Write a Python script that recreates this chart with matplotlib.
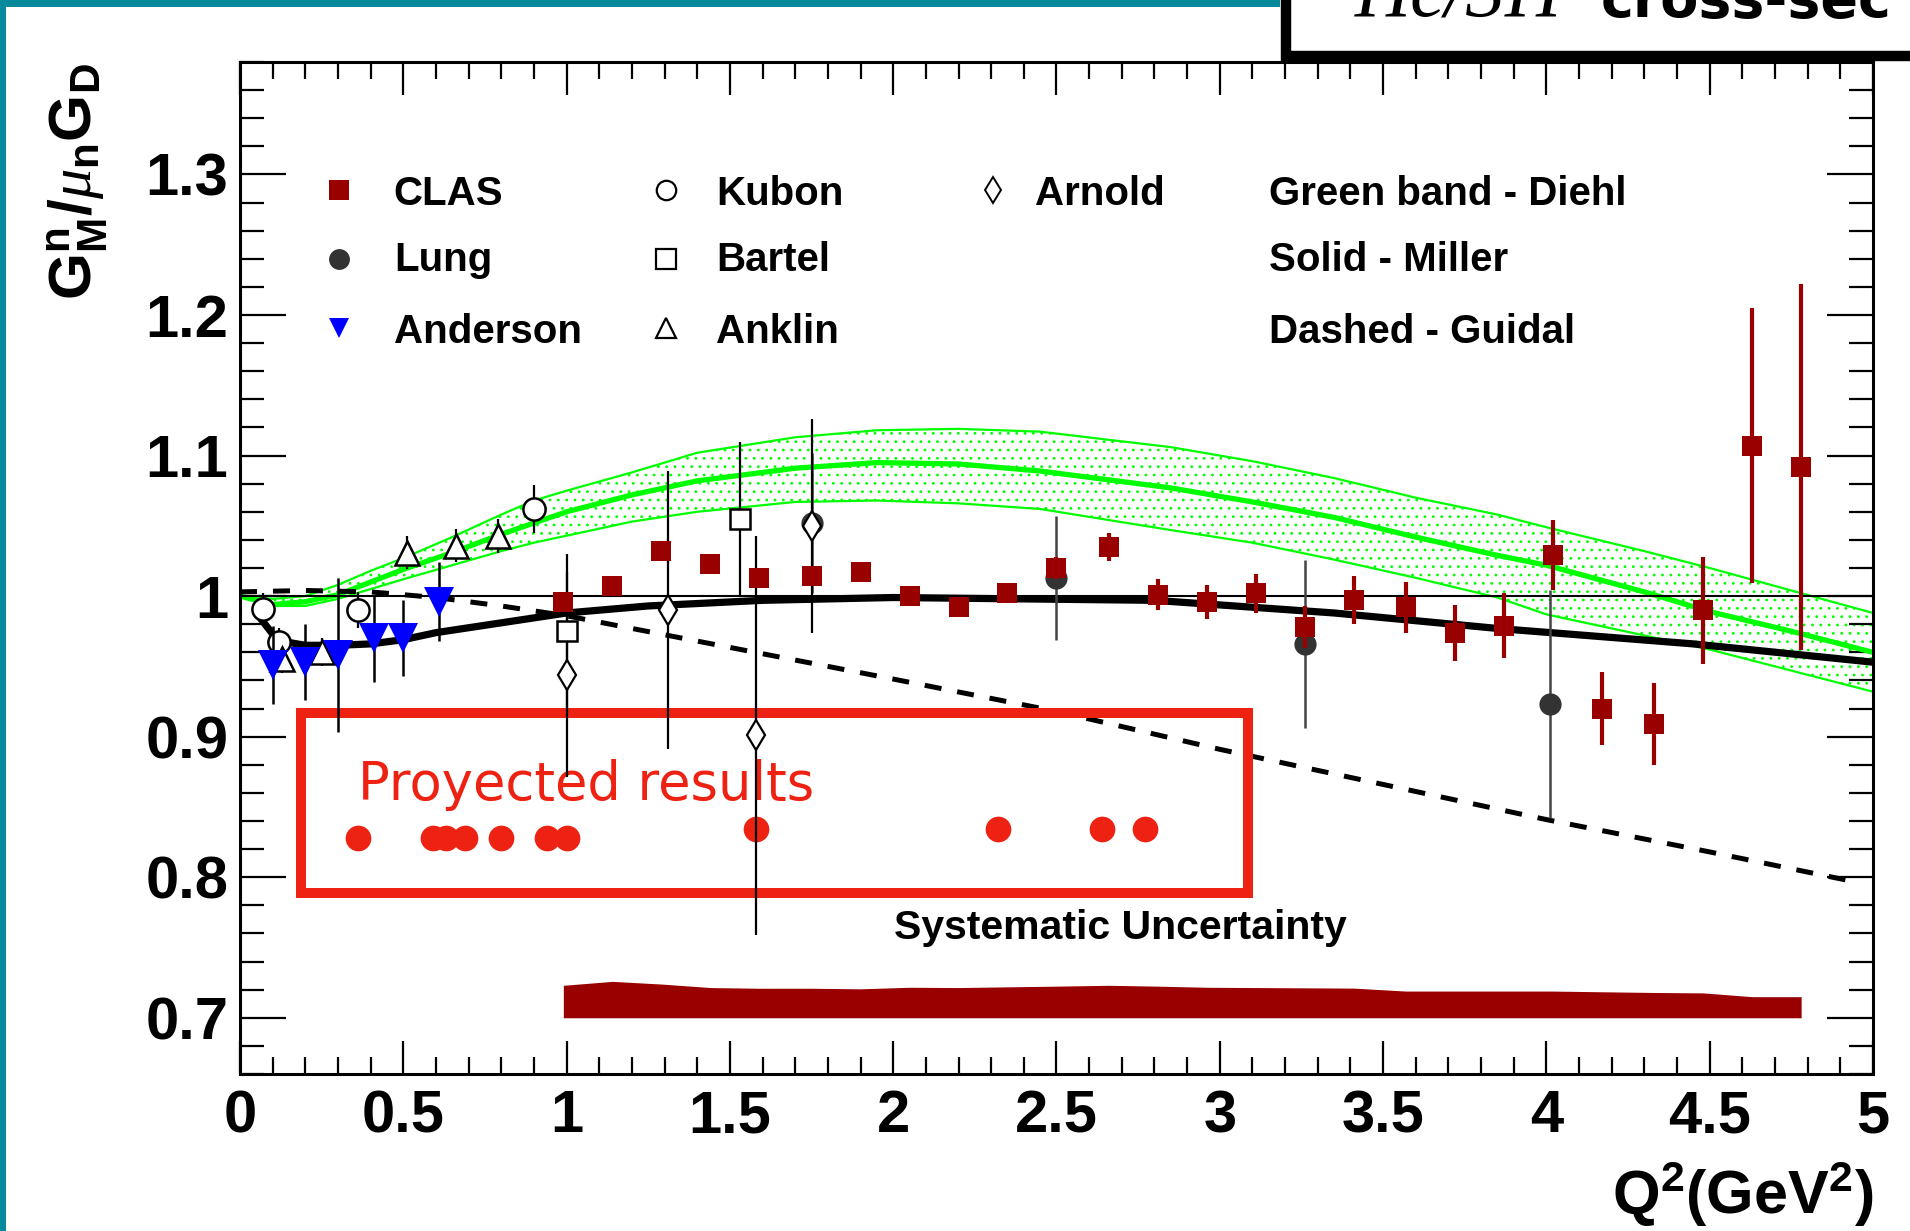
import numpy as np
import matplotlib.pyplot as plt
from matplotlib.patches import Rectangle

plt.rcParams['font.family'] = ['Liberation Sans', 'DejaVu Sans']
plt.rcParams['mathtext.fontset'] = 'custom'
plt.rcParams['mathtext.bf'] = 'Liberation Sans:bold'
plt.rcParams['mathtext.rm'] = 'Liberation Sans:bold'
plt.rcParams['mathtext.it'] = 'Liberation Serif:italic'
plt.rcParams['hatch.linewidth'] = 0.8

# ---- data ----
clas_q2 = [0.99, 1.14, 1.29, 1.44, 1.59, 1.75, 1.90, 2.05, 2.20, 2.35, 2.50, 2.66, 2.81,
           2.96, 3.11, 3.26, 3.41, 3.57, 3.72, 3.87, 4.02, 4.17, 4.33, 4.48, 4.63, 4.78]
clas_val = [0.996, 1.007, 1.032, 1.023, 1.013, 1.014, 1.017, 1.000, 0.992, 1.002, 1.020, 1.035, 1.001,
            0.996, 1.002, 0.978, 0.997, 0.992, 0.974, 0.979, 1.029, 0.920, 0.909, 0.990, 1.107, 1.092]
clas_err = [0.003, 0.003, 0.003, 0.003, 0.003, 0.003, 0.003, 0.003, 0.004, 0.005, 0.008, 0.010, 0.011,
            0.012, 0.014, 0.015, 0.017, 0.018, 0.020, 0.023, 0.025, 0.026, 0.029, 0.038, 0.098, 0.130]
clas_sys = [0.7231, 0.7259, 0.7240, 0.7215, 0.7210, 0.7210, 0.7206, 0.7217, 0.7215, 0.7220, 0.7225, 0.7231, 0.7225,
            0.7217, 0.7215, 0.7213, 0.7211, 0.7190, 0.7190, 0.7190, 0.7190, 0.7185, 0.7180, 0.7177, 0.7150, 0.7150]
sys_base = 0.70

lung_q2 = [1.75, 2.50, 3.26, 4.01]
lung_val = [1.052, 1.013, 0.966, 0.923]
lung_err = [0.050, 0.044, 0.060, 0.081]

anderson_q2 = [0.10, 0.20, 0.30, 0.41, 0.50, 0.61]
anderson_val = [0.951, 0.953, 0.958, 0.970, 0.970, 0.996]
anderson_err = [0.028, 0.027, 0.055, 0.031, 0.027, 0.028]

kubon_q2 = [0.07, 0.12, 0.36, 0.90]
kubon_val = [0.991, 0.967, 0.990, 1.062]
kubon_err = [0.011, 0.010, 0.013, 0.017]

bartel_q2 = [1.00, 1.53]
bartel_val = [0.975, 1.055]
bartel_err = [0.055, 0.055]

anklin_q2 = [0.13, 0.25, 0.51, 0.66, 0.79]
anklin_val = [0.955, 0.960, 1.031, 1.036, 1.043]
anklin_err = [0.010, 0.010, 0.012, 0.012, 0.012]

arnold_q2 = [1.00, 1.31, 1.58, 1.75]
arnold_val = [0.944, 0.990, 0.901, 1.050]
arnold_err = [0.073, 0.099, 0.142, 0.076]

proj_q2 = [0.36, 0.59, 0.63, 0.69, 0.80, 0.94, 1.00, 1.58, 2.32, 2.64, 2.77]
proj_val = [0.828, 0.828, 0.828, 0.828, 0.828, 0.828, 0.828, 0.834, 0.834, 0.834, 0.834]

miller_q2 = [0.05, 0.1, 0.15, 0.2, 0.3, 0.4, 0.5, 0.6, 0.8, 1.0, 1.25, 1.6, 2.0, 2.4, 2.8, 3.35, 3.85, 4.45, 5.0]
miller_val = [0.988, 0.973, 0.967, 0.965, 0.965, 0.966, 0.969, 0.974, 0.981, 0.988, 0.993, 0.997, 0.999,
              0.998, 0.997, 0.988, 0.977, 0.966, 0.953]

guidal_q2 = [0.0, 0.2, 0.4, 0.6, 0.8, 1.0, 1.2, 1.6, 2.0, 2.5, 3.0, 3.5, 4.0, 4.5, 4.96]
guidal_val = [1.003, 1.004, 1.003, 0.999, 0.993, 0.986, 0.977, 0.959, 0.941, 0.918, 0.891, 0.866, 0.841, 0.818, 0.796]

diehl_q2 = [0.0, 0.1, 0.2, 0.3, 0.4, 0.5, 0.65, 0.8, 0.9, 1.0, 1.2, 1.4, 1.7, 1.95, 2.2, 2.45,
            2.85, 3.1, 3.35, 3.6, 3.85, 4.0, 4.3, 4.5, 4.75, 5.0]
diehl_mid = [1.000, 0.994, 0.996, 1.001, 1.010, 1.019, 1.031, 1.044, 1.052, 1.060, 1.072, 1.082, 1.091, 1.095,
             1.094, 1.089, 1.077, 1.067, 1.056, 1.042, 1.029, 1.022, 1.003, 0.989, 0.975, 0.960]
diehl_hi = [1.000, 0.998, 1.000, 1.008, 1.018, 1.027, 1.042, 1.058, 1.068, 1.075, 1.088, 1.102, 1.113, 1.118,
            1.119, 1.117, 1.106, 1.096, 1.084, 1.070, 1.058, 1.049, 1.032, 1.020, 1.004, 0.988]
diehl_lo = [1.000, 0.993, 0.993, 0.998, 1.005, 1.012, 1.022, 1.032, 1.038, 1.043, 1.053, 1.060, 1.067, 1.068,
            1.066, 1.062, 1.047, 1.038, 1.026, 1.013, 0.999, 0.987, 0.972, 0.962, 0.947, 0.932]

xtick_vals = [0, 0.5, 1, 1.5, 2, 2.5, 3, 3.5, 4, 4.5, 5]
xtick_labels = ['0', '0.5', '1', '1.5', '2', '2.5', '3', '3.5', '4', '4.5', '5']
ytick_vals = [0.7, 0.8, 0.9, 1.0, 1.1, 1.2, 1.3]
ytick_labels = ['0.7', '0.8', '0.9', '1', '1.1', '1.2', '1.3']

dark_red = '#990000'
proj_red = '#ee2212'
green = '#00ff00'

fig = plt.figure(figsize=(19.1, 12.31), dpi=100)
ax = fig.add_axes([0.12565, 0.12754, 0.85497, 0.82209])

# green band (Diehl)
ax.fill_between(diehl_q2, diehl_lo, diehl_hi, facecolor='none', edgecolor=green,
                hatch='..', linewidth=0, zorder=1)
ax.plot(diehl_q2, diehl_hi, color=green, lw=1.6, zorder=2)
ax.plot(diehl_q2, diehl_lo, color=green, lw=1.6, zorder=2)
ax.plot(diehl_q2, diehl_mid, color=green, lw=3.8, zorder=2)

ax.axhline(1.0, color='black', lw=1.5, zorder=2)

# Miller, Guidal
ax.plot(miller_q2, miller_val, color='black', lw=5.2, solid_capstyle='butt', zorder=3)
ax.plot(guidal_q2, guidal_val, color='black', lw=3.6, dashes=(3.4, 3.2), zorder=3)

# systematic uncertainty band
ax.fill_between(clas_q2, sys_base, clas_sys, color=dark_red, lw=0, zorder=2)

# projected results box
ax.add_patch(Rectangle((0.187, 0.789), 2.90, 0.128, fill=False, edgecolor=proj_red, lw=7.2, zorder=3))
ax.text(0.36, 0.855, 'Proyected results', family='DejaVu Sans', fontsize=38, color=proj_red,
        va='baseline', ha='left', zorder=3)
ax.plot(proj_q2, proj_val, 'o', color=proj_red, ms=18.5, mew=0, zorder=4)

# data sets
eb = dict(capsize=0, linestyle='none')
ax.errorbar(kubon_q2, kubon_val, yerr=kubon_err, fmt='o', ms=16, mfc='white', mec='black', mew=1.8,
            ecolor='black', elinewidth=1.6, zorder=5, **eb)
ax.errorbar(anklin_q2, anklin_val, yerr=anklin_err, fmt='^', ms=17, mfc='white', mec='black', mew=1.8,
            ecolor='black', elinewidth=1.6, zorder=5, **eb)
ax.errorbar(bartel_q2, bartel_val, yerr=bartel_err, fmt='s', ms=15, mfc='white', mec='black', mew=1.8,
            ecolor='black', elinewidth=1.6, zorder=5, **eb)
ax.errorbar(lung_q2, lung_val, yerr=lung_err, fmt='o', ms=16, color='#333333', mew=0,
            ecolor='#444444', elinewidth=1.8, zorder=5, **eb)
ax.errorbar(arnold_q2, arnold_val, yerr=arnold_err, fmt='d', ms=15, mfc='white', mec='black', mew=1.6,
            ecolor='black', elinewidth=1.6, zorder=5, **eb)
ax.errorbar(anderson_q2, anderson_val, yerr=anderson_err, fmt='v', ms=21, color='blue', mew=0,
            ecolor='black', elinewidth=1.8, zorder=6, **eb)
ax.errorbar(clas_q2, clas_val, yerr=clas_err, fmt='s', ms=15, color=dark_red, mew=0,
            ecolor=dark_red, elinewidth=3.0, zorder=7, **eb)

# legend drawn as text + markers
leg_fs = 29
rows_txt = [1.278, 1.2314, 1.180]
rows_mk = [1.289, 1.240, 1.1906]
ax.plot(0.303, rows_mk[0], 's', color=dark_red, ms=15, mew=0)
ax.plot(0.303, rows_mk[1], 'o', color='#333333', ms=15, mew=0)
ax.plot(0.303, rows_mk[2], 'v', color='blue', ms=15, mew=0)
ax.plot(1.303, rows_mk[0], 'o', mfc='white', mec='black', ms=14, mew=1.6)
ax.plot(1.303, rows_mk[1], 's', mfc='white', mec='black', ms=14, mew=1.6)
ax.plot(1.303, rows_mk[2], '^', mfc='white', mec='black', ms=14, mew=1.6)
ax.plot(2.305, rows_mk[0], 'd', mfc='white', mec='black', ms=13, mew=1.4)
for name, y in zip(['CLAS', 'Lung', 'Anderson'], rows_txt):
    ax.text(0.471, y, name, fontsize=leg_fs, fontweight='bold', va='baseline')
for name, y in zip(['Kubon', 'Bartel', 'Anklin'], rows_txt):
    ax.text(1.458, y, name, fontsize=leg_fs, fontweight='bold', va='baseline')
ax.text(2.435, rows_txt[0], 'Arnold', fontsize=leg_fs, fontweight='bold', va='baseline')
for name, y in zip(['Green band - Diehl', 'Solid - Miller', 'Dashed - Guidal'], rows_txt):
    ax.text(3.151, y, name, fontsize=leg_fs, fontweight='bold', va='baseline')

ax.text(2.003, 0.7563, 'Systematic Uncertainty', fontsize=29.5, fontweight='bold', va='baseline')

# axes styling (ROOT look)
ax.set_xlim(0, 5)
ax.set_ylim(0.66, 1.38)
ax.set_xticks(xtick_vals)
ax.set_xticklabels(xtick_labels)
ax.set_xticks(np.arange(0, 5.01, 0.1), minor=True)
ax.set_yticks(ytick_vals)
ax.set_yticklabels(ytick_labels)
ax.set_yticks(np.arange(0.66, 1.381, 0.02), minor=True)
ax.tick_params(axis='x', which='major', direction='in', length=24, width=1.6, top=True, bottom=True, pad=11)
ax.tick_params(axis='x', which='minor', direction='in', length=12.5, width=1.6, top=True, bottom=True)
ax.tick_params(axis='y', which='major', direction='in', length=33, width=1.6, left=True, right=True, pad=8.5)
ax.tick_params(axis='y', which='minor', direction='in', length=17, width=1.6, left=True, right=True)
for lab in ax.get_xticklabels() + ax.get_yticklabels():
    lab.set_fontsize(43)
    lab.set_fontweight('bold')
for sp in ax.spines.values():
    sp.set_linewidth(2.2)

fig.text(0.9806, 0.0138, r'$\mathbf{Q^{2}(GeV^{2})}$', fontsize=44, ha='right', va='baseline')
fig.text(0.0408, 0.9488, r'$\mathbf{G^{n}_{M}/}\mu_{\mathbf{n}}\mathbf{G_{D}}$', fontsize=43.5,
         rotation=90, ha='center', va='top')

# slide decorations: teal frame and cut title box
teal = '#06899a'
fig.patches.append(Rectangle((0, 0), 6 / 1910, 1, transform=fig.transFigure, color=teal, lw=0))
fig.patches.append(Rectangle((0, 1 - 7 / 1231), 1280 / 1910, 7 / 1231, transform=fig.transFigure,
                             color=teal, lw=0))
fig.patches.append(Rectangle((1285.5 / 1910, 1 - 55.5 / 1231), 0.5, 0.2, transform=fig.transFigure,
                             facecolor='white', edgecolor='black', lw=7.5))
fig.text(1355 / 1910, 1 - 17 / 1231, 'He/3H', family='Liberation Serif', style='italic',
         fontsize=56, va='baseline', ha='left')
fig.text(1601 / 1910, 1 - 17 / 1231, 'cross-sec', family='DejaVu Sans', fontweight='bold',
         fontsize=40, va='baseline', ha='left')

fig.savefig('out.png', dpi=100)
